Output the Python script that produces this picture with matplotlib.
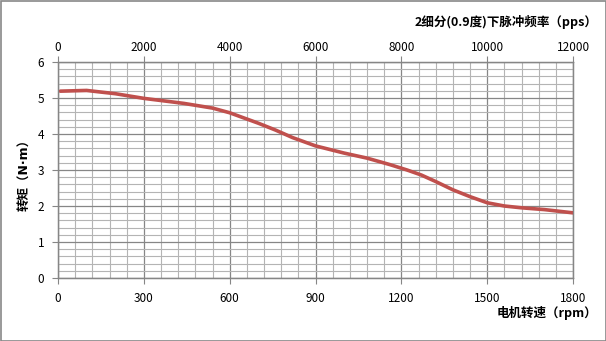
import matplotlib
matplotlib.use('Agg')
import matplotlib.pyplot as plt
from matplotlib.patches import Rectangle

plt.rcParams['font.family'] = ['Noto Sans CJK SC', 'DejaVu Sans']

# torque curve
speed_rpm = [8, 100, 200, 300, 440, 540, 600, 700, 760, 820, 900, 1000, 1080, 1160, 1220, 1270,
             1320, 1380, 1440, 1500, 1560, 1620, 1700, 1800]
torque_nm = [5.19, 5.21, 5.12, 4.99, 4.85, 4.72, 4.59, 4.30, 4.11, 3.90, 3.67, 3.47, 3.33, 3.15, 3.00, 2.86,
             2.68, 2.45, 2.26, 2.09, 2.00, 1.95, 1.90, 1.81]

rpm_ticks = [0, 300, 600, 900, 1200, 1500, 1800]
pps_ticks = [0, 2000, 4000, 6000, 8000, 10000, 12000]
torque_ticks = [0, 1, 2, 3, 4, 5, 6]

fig = plt.figure(figsize=(6.06, 3.41), dpi=100)
ax = fig.add_axes([58 / 606, 1 - 278 / 341, 515 / 606, 216 / 341])

ax.plot(speed_rpm, torque_nm, color='#C0504D', linewidth=2.6, solid_capstyle='round',
        solid_joinstyle='round', zorder=3)

ax.set_xlim(0, 1800)
ax.set_ylim(0, 6)
ax.set_xticks(rpm_ticks)
ax.set_yticks(torque_ticks)
ax.set_xticks(range(0, 1801, 60), minor=True)
ax.set_yticks([i * 0.2 for i in range(31)], minor=True)
ax.grid(which='major', color='#868686', linewidth=0.9)
ax.grid(which='minor', color='#b4b4b4', linewidth=0.8)
ax.tick_params(which='major', length=4, width=0.8, color='#868686', labelsize=8.5, pad=6)
ax.tick_params(which='minor', length=0)
for s in ax.spines.values():
    s.set_color('#868686')
    s.set_linewidth(0.9)

top = ax.twiny()
top.set_xlim(0, 12000)
top.set_xticks(pps_ticks)
top.tick_params(length=4, width=0.8, color='#868686', labelsize=8.5, pad=2)
for s in top.spines.values():
    s.set_color('#868686')
    s.set_linewidth(0.9)

fig.text(597 / 606, 1 - 22 / 341, '2细分(0.9度)下脉冲频率（pps）', ha='right', va='center',
         fontsize=9, fontweight='bold')
fig.text(597 / 606, 1 - 313 / 341, '电机转速（rpm）', ha='right', va='center',
         fontsize=9, fontweight='bold')
fig.text(25 / 606, 1 - 172 / 341, '转矩（N·m）', ha='center', va='center', rotation=90,
         fontsize=9, fontweight='bold', family=['DejaVu Sans', 'Noto Sans CJK SC'])

fig.patches.append(Rectangle((0.5 / 606, 0.5 / 341), 605 / 606, 340 / 341, transform=fig.transFigure,
                             fill=False, edgecolor='#888888', linewidth=1.2))

fig.savefig('out.png', dpi=100)
